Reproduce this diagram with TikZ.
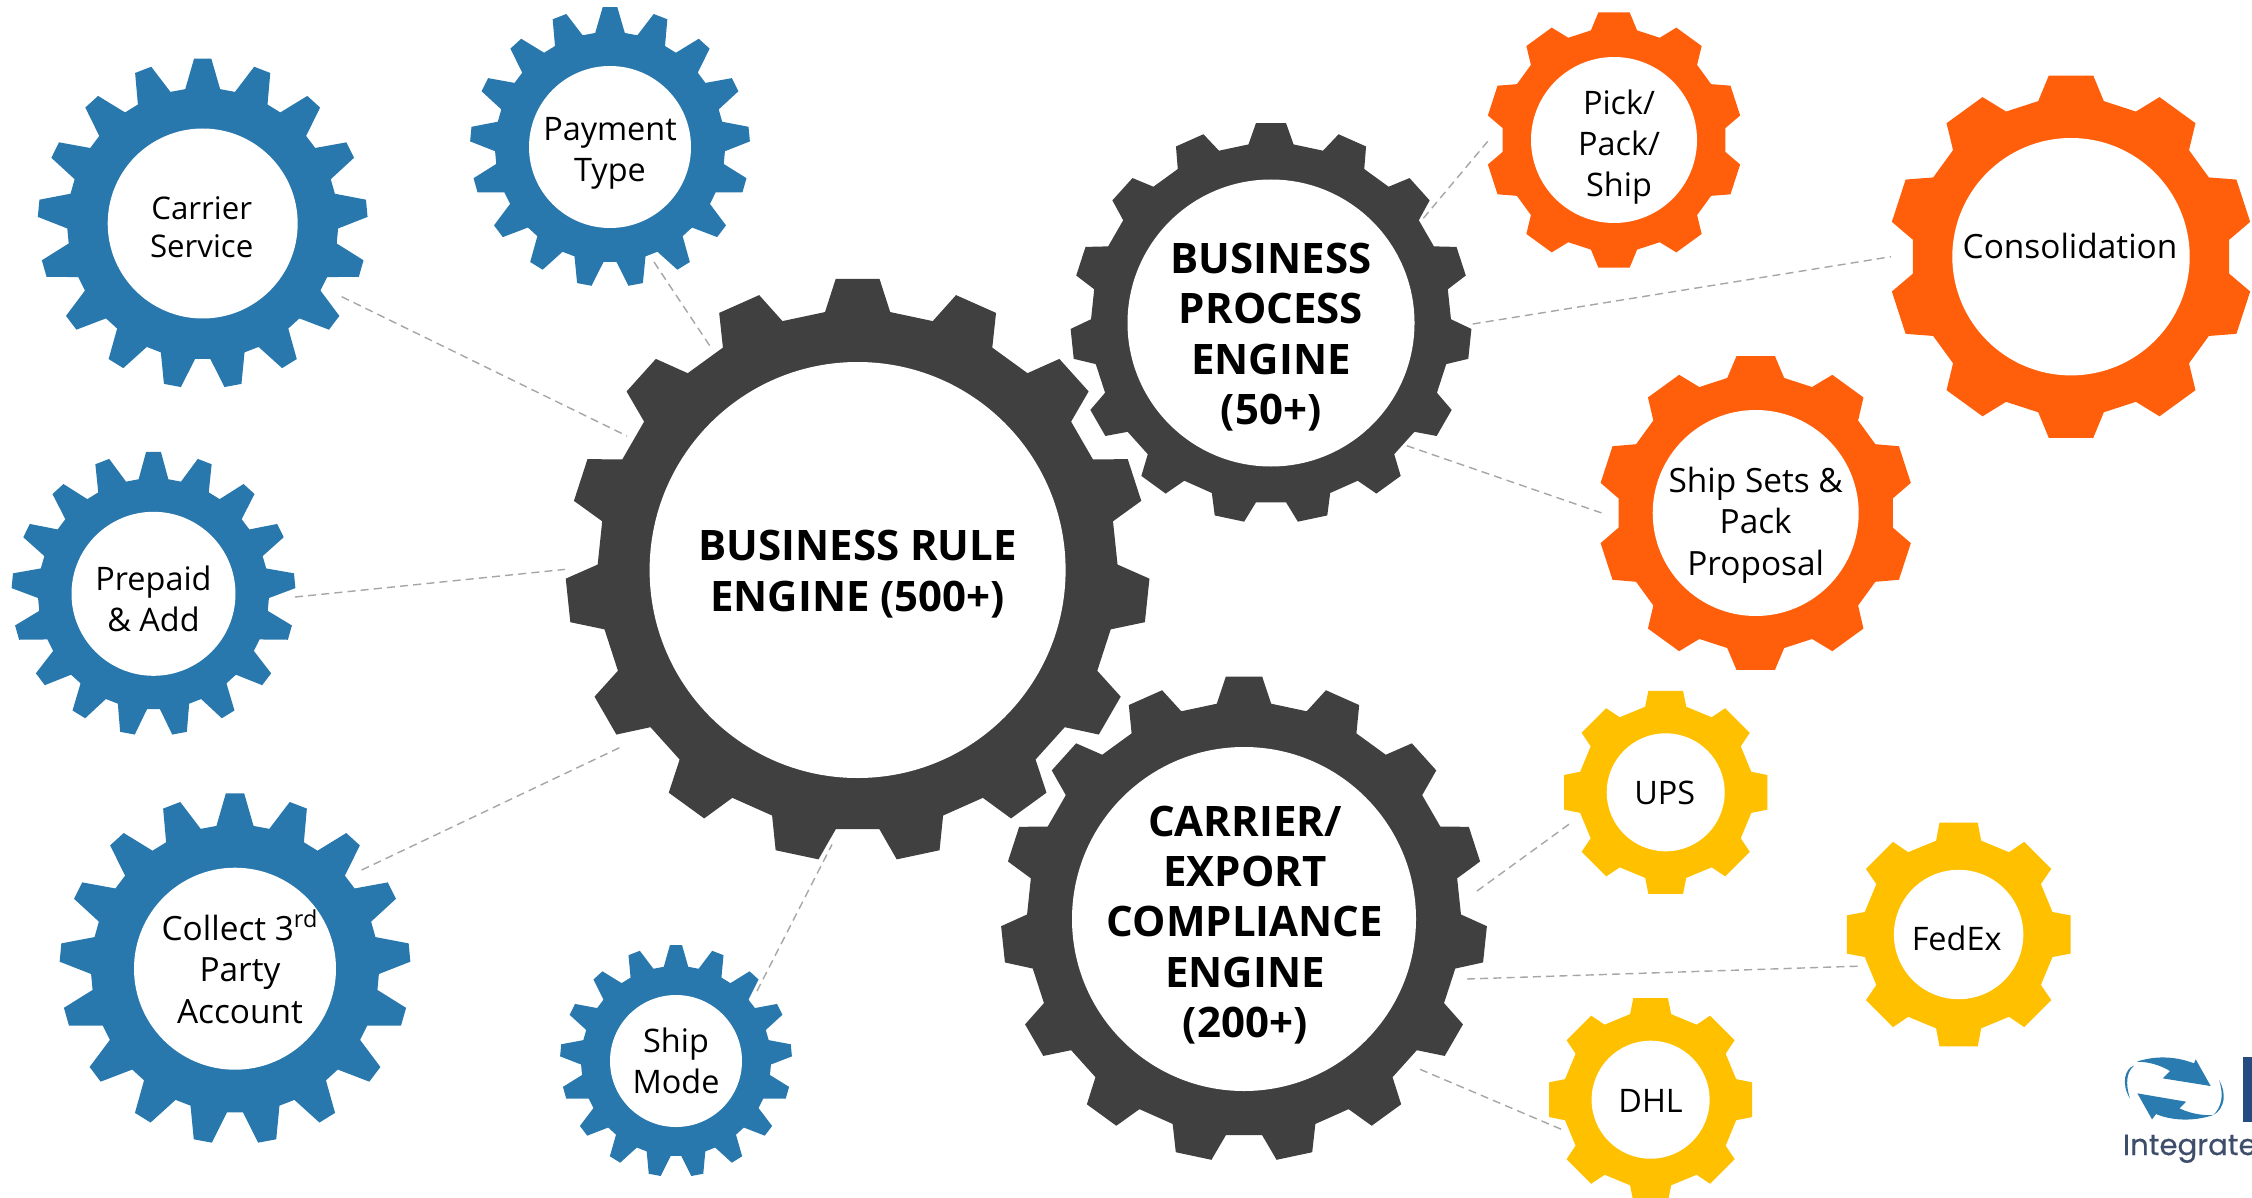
\documentclass[tikz,border=0pt]{standalone}
\usepackage{fontspec}
\setmainfont{Open Sans}
\newfontfamily\logofont[FakeBold=0.4]{Poppins}
\definecolor{gdark}{HTML}{404040}
\definecolor{gblue}{HTML}{2878AE}
\definecolor{gorange}{HTML}{FF5F0A}
\definecolor{gyellow}{HTML}{FFC000}
\definecolor{linkgray}{HTML}{A6A6A6}
\definecolor{logoblue}{HTML}{2A7BB0}
\definecolor{logonavy}{HTML}{254B80}
\definecolor{logotext}{HTML}{3E4E6A}
\tikzset{
  darkgear/.style={fill=gdark},
  bluegear/.style={fill=gblue},
  orangegear/.style={fill=gorange},
  yellowgear/.style={fill=gyellow},
  gearhole/.style={fill=white},
  geartext/.style={inner sep=0pt,align=center,text=black},
  link/.style={draw=linkgray,line width=0.7pt,dash pattern=on 4pt off 2.6pt},
}
% #1 style, #2 teeth, #3 tip half-angle, #4 base half-angle
\newcommand\gearform[4]{\def\gStyle{#1}\def\gN{#2}\def\gAt{#3}\def\gAb{#4}}
% #1 x, #2 y, #3 R tip, #4 R base, #5 hole R, #6 name, #7 font size/leading, #8 text shift, #9 text
\newcommand\gear[9]{%
  \begin{scope}[shift={(#1,#2)}]
    \pgfmathtruncatemacro\gLast{\gN-1}
    \fill[\gStyle] ({-90-\gAb}:#4)
      \foreach \i [evaluate=\i as \a using {-90+\i*360/\gN}] in {0,...,\gLast}{
        -- ({\a-\gAb}:#4) -- ({\a-\gAt}:#3) -- ({\a+\gAt}:#3) -- ({\a+\gAb}:#4)
      } -- cycle;
    \fill[gearhole] (0,0) circle (#5);
    \node[geartext,font=#7] (#6) at (#8) {#9};
  \end{scope}}
\newcommand\fsb{\bfseries\fontsize{21}{25.2}\selectfont}
\newcommand\fsr{\fontsize{16.2}{20.5}\selectfont}
\newcommand\fsl{\fontsize{16.7}{20.7}\selectfont}
\newcommand\fss{\fontsize{15.6}{19}\selectfont}
\begin{document}
\begin{tikzpicture}[x=0.5pt,y=-0.5pt]
\useasboundingbox (0,0) rectangle (2252,1198);
\clip (0,0) rectangle (2252,1198);
\fill[white] (0,0) rectangle (2252,1198);

% connector ends
\coordinate (csE) at (341.7,296.7);  \coordinate (mainA) at (627,436);
\coordinate (ptE) at (654,262);      \coordinate (mainB) at (710.6,347);
\coordinate (paE) at (295,597);      \coordinate (mainC) at (565,569.4);
\coordinate (coE) at (361.7,870);    \coordinate (mainD) at (623.7,745.7);
\coordinate (smE) at (757,991);      \coordinate (mainE) at (832,844.5);
\coordinate (prA) at (1423.3,218.3); \coordinate (pickE) at (1488,141);
\coordinate (prB) at (1472.7,324);   \coordinate (consE) at (1891,256.7);
\coordinate (prC) at (1406.7,445.7); \coordinate (setsE) at (1601.7,513);
\coordinate (caA) at (1477,891);     \coordinate (upsE) at (1570.3,823.3);
\coordinate (caB) at (1467,979);     \coordinate (fedE) at (1862.8,966);
\coordinate (caC) at (1420,1069.3);  \coordinate (dhlE) at (1563,1130);
\foreach \p/\q in {csE/mainA,ptE/mainB,paE/mainC,coE/mainD,smE/mainE,
                   prA/pickE,prB/consE,prC/setsE,caA/upsE,caB/fedE,caC/dhlE}
  \draw[link] (\p) -- (\q);

\gearform{darkgear}{15}{4.3}{7.2}
\gear{857.6}{570}{292}{260}{208}{ruleEngine}{\fsb}{0,4}{BUSINESS RULE\\ENGINE (500+)}
\gear{1271}{323}{200.5}{180}{143.5}{processEngine}{\fsb}{0,14}{BUSINESS\\PROCESS\\ENGINE\\(50+)}
\gear{1244}{919}{243}{217}{172}{carrierEngine}{\fsb}{1,6}{CARRIER/\\EXPORT\\COMPLIANCE\\ENGINE\\(200+)}

\gearform{bluegear}{17}{3}{7.4}
\gear{202.7}{223.5}{165}{135.5}{95}{carrierService}{\fss}{-1,4}{Carrier\\Service}
\gear{610}{147}{140}{115}{81}{paymentType}{\fsr}{0,6}{Payment\\Type}
\gear{153.5}{593.8}{142}{115.5}{82}{prepaidAdd}{\fsr}{0,5}{Prepaid\\\& Add}
\gear{235}{968.7}{175.5}{144}{101}{collectThird}{\fsl}{5,-2}{Collect 3\textsuperscript{rd}\\Party\\Account}
\gear{676}{1061}{116}{95}{66}{shipMode}{\fsr}{0,0}{Ship\\Mode}

\gearform{orangegear}{10}{7}{11.9}
\gear{1614}{140}{128.5}{112}{83}{pickPack}{\fsr}{5,7}{Pick/\\Pack/\\Ship}
\gear{2071}{256.7}{182.5}{159}{118.7}{consolidation}{\fsl}{-1,-11}{Consolidation}
\gear{1755.7}{513}{158}{138}{103}{shipSets}{\fsl}{0,12}{Ship Sets \&\\Pack\\Proposal}

\gearform{yellowgear}{8}{9.7}{13.5}
\gear{1665.7}{792.3}{103}{88}{59}{ups}{\fsr}{-1,1}{UPS}
\gear{1958.6}{934.5}{113.5}{96.5}{64.7}{fedex}{\fsr}{-2,4}{FedEx}
\gear{1650.6}{1099.7}{103}{88}{59}{dhl}{\fsr}{0,1}{DHL}

% logo
\begin{scope}[shift={(2050,1000)},x=0.1667pt,y=-0.1667pt]
  \fill[logoblue] (260,185) .. controls (320,165) and (380,170) .. (432,190)
    -- (437,178) -- (482,258) -- (338,235) -- (360,213)
    .. controls (330,195) and (295,185) .. (260,185) -- cycle;
  \fill[logoblue] (490,345) .. controls (430,365) and (365,362) .. (318,342)
    -- (306,358) -- (262,280) -- (408,305) -- (388,325)
    .. controls (420,340) and (455,347) .. (490,345) -- cycle;
  \fill[logoblue] (252,197) .. controls (225,205) and (212,250) .. (240,296)
    .. controls (225,250) and (230,215) .. (252,197) -- cycle;
  \fill[logoblue] (507,240) .. controls (530,280) and (525,325) .. (490,345)
    .. controls (515,320) and (522,285) .. (507,240) -- cycle;
  \fill[logonavy] (578,172) rectangle (610,365);
\end{scope}
\node[anchor=base west,inner sep=0pt,text=logotext,font=\logofont\fontsize{14.6}{18}\selectfont]
  (logoText) at (2122.5,1155) {Integrate};
\end{tikzpicture}
\end{document}
